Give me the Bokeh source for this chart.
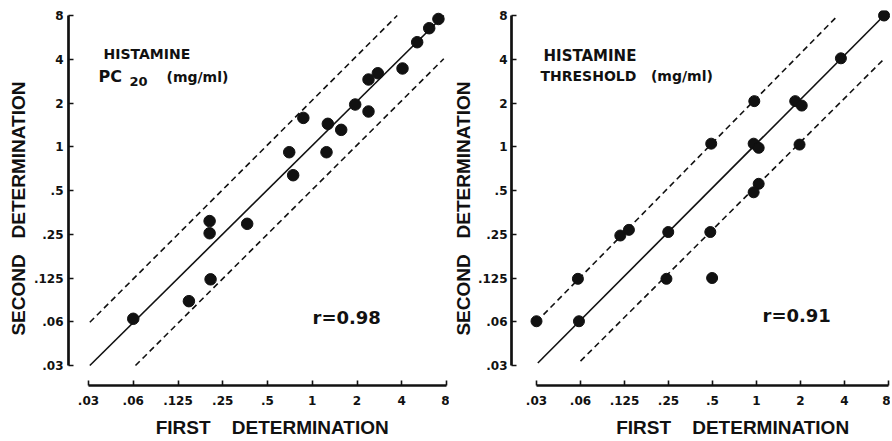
import numpy as np
from bokeh.plotting import figure
from bokeh.layouts import row
from bokeh.models import Range1d, FixedTicker, Label
from bokeh.embed import file_html
from bokeh.resources import INLINE

# ---------------- data (mg/ml) ----------------
tick_values = [0.03125, 0.0625, 0.125, 0.25, 0.5, 1, 2, 4, 8]
tick_labels = [".03", ".06", ".125", ".25", ".5", "1", "2", "4", "8"]

pc20_first = [0.871, 0.700, 0.744, 1.273, 1.247, 1.566, 1.945, 2.390, 2.390, 2.761,
              4.047, 5.08, 6.12, 7.06, 0.204, 0.204, 0.365, 0.207, 0.148, 0.0625]
pc20_second = [1.580, 0.917, 0.637, 1.438, 0.917, 1.307, 1.953, 1.748, 2.902, 3.204,
               3.456, 5.24, 6.54, 7.57, 0.308, 0.254, 0.295, 0.1224, 0.0866, 0.0655]

thr_first = [7.46, 3.78, 1.84, 2.04, 0.966, 0.490, 0.956, 1.035, 1.97, 1.035,
             0.956, 0.117, 0.134, 0.249, 0.483, 0.060, 0.242, 0.497, 0.03125, 0.061]
thr_second = [8.0, 4.06, 2.06, 1.92, 2.06, 1.05, 1.05, 0.983, 1.035, 0.556,
              0.486, 0.245, 0.268, 0.259, 0.259, 0.1234, 0.1234, 0.125, 0.0630, 0.0630]

pc20_solid_x, pc20_solid_y = [0.0319, 7.67], [0.03125, 8.0]
pc20_upper_x, pc20_upper_y = [0.0319, 3.73], [0.062, 8.0]
pc20_lower_x, pc20_lower_y = [0.0647, 7.67], [0.03125, 4.03]

thr_solid_x, thr_solid_y = [0.0319, 7.46], [0.0325, 8.0]
thr_upper_x, thr_upper_y = [0.03125, 3.56], [0.0625, 7.9]
thr_lower_x, thr_lower_y = [0.0625, 7.57], [0.0335, 4.08]

# doses are doubling steps: plot on a base-2 logarithmic axis
L = np.log2
tick_pos = [int(round(v)) for v in L(tick_values)]
overrides = dict(zip(tick_pos, tick_labels))

TICK_FONT = "DejaVu Sans"
TITLE_FONT = "Liberation Sans"
NB = "\u00a0"
INK = "#111111"

OCT_Y = 43.75
Y_LO = -5 - 20 / OCT_Y   # frame bottom 20px below the .03 tick
Y_HI = 3 + 5 / OCT_Y     # frame top 5px above the 8 tick


def make_panel(width, left_border, x_lo, x_hi, xlead, ylab_standoff, ytitle_standoff):
    p = figure(width=width, height=440, output_backend="svg", toolbar_location=None,
               x_range=Range1d(x_lo, x_hi), y_range=Range1d(Y_LO, Y_HI),
               min_border_left=left_border, min_border_right=0,
               min_border_top=10, min_border_bottom=55)
    p.outline_line_color = None
    p.grid.visible = False
    for ax in (p.xaxis[0], p.yaxis[0]):
        ax.ticker = FixedTicker(ticks=tick_pos, minor_ticks=[])
        ax.major_label_overrides = overrides
        ax.bounds = (tick_pos[0], tick_pos[-1])
        ax.axis_line_width = 2.7
        ax.axis_line_color = INK
        ax.major_tick_in = 5
        ax.major_tick_out = 0
        ax.major_tick_line_width = 1.6
        ax.major_tick_line_color = INK
        ax.minor_tick_line_color = None
        ax.major_label_text_font = TICK_FONT
        ax.major_label_text_font_style = "bold"
        ax.major_label_text_font_size = "12px"
        ax.major_label_text_color = INK
        ax.axis_label_text_font = TITLE_FONT
        ax.axis_label_text_font_style = "bold"
        ax.axis_label_text_color = INK
    p.xaxis.major_label_standoff = 10
    p.yaxis.major_label_standoff = ylab_standoff
    p.xaxis.axis_label = NB * xlead + "FIRST" + NB * 4 + "DETERMINATION"
    p.xaxis.axis_label_text_font_size = "19px"
    p.xaxis.axis_label_standoff = 9
    p.yaxis.axis_label = "SECOND" + NB * 3 + "DETERMINATION" + NB * 4
    p.yaxis.axis_label_text_font_size = "19px"
    p.yaxis.axis_label_standoff = ytitle_standoff
    return p


def ref_pos(x0, sx, px, py):
    # convert a reference picture position to axis units (doubling steps)
    return (px - x0) / sx - 5, (365 - py) / OCT_Y - 5


def add_text(p, x0, sx, px, py, text, size, bold=True, font=TICK_FONT):
    x, y = ref_pos(x0, sx, px, py)
    p.add_layout(Label(x=x, y=y, text=text, text_font=font,
                       text_font_size=size, text_font_style="bold" if bold else "normal",
                       text_align="left", text_baseline="middle", text_color=INK))


def draw(p, fx, fy, sx, sy, ux, uy, lx, ly, size):
    p.line(L(sx), L(sy), line_width=1.6, line_color=INK)
    p.line(L(ux), L(uy), line_width=1.6, line_color=INK, line_dash="6 4")
    p.line(L(lx), L(ly), line_width=1.6, line_color=INK, line_dash="6 4")
    p.scatter(L(fx), L(fy), size=size, color=INK)


# ---------------- left panel (page x 0..449) ----------------
OCT_X1 = 44.75
p1 = make_panel(449, 68, -5 - 20 / OCT_X1, 3 + 3 / OCT_X1, 5, 5, 2)
draw(p1, pc20_first, pc20_second, pc20_solid_x, pc20_solid_y,
     pc20_upper_x, pc20_upper_y, pc20_lower_x, pc20_lower_y, 11.5)

add_text(p1, 88, OCT_X1, 103, 53, "HISTAMINE", "14px")
add_text(p1, 88, OCT_X1, 98, 76, "PC", "16px")
add_text(p1, 88, OCT_X1, 129, 81, "20", "13px")
add_text(p1, 88, OCT_X1, 166, 76, "(mg/ml)", "14px")
add_text(p1, 88, OCT_X1, 312, 317, "r=0.98", "18px")

# ---------------- right panel (page x 449..890) ----------------
OCT_X2 = 44.0
p2 = make_panel(441, 62, -5 - 25 / OCT_X2, 3 + 2 / OCT_X2, 12, 4, 1)
draw(p2, thr_first, thr_second, thr_solid_x, thr_solid_y,
     thr_upper_x, thr_upper_y, thr_lower_x, thr_lower_y, 11)

X0R = 536 - 449
add_text(p2, X0R, OCT_X2, 543 - 449, 55, "HISTAMINE", "15px")
add_text(p2, X0R, OCT_X2, 540 - 449, 75, "THRESHOLD" + NB * 3 + "(mg/ml)", "14px")
add_text(p2, X0R, OCT_X2, 762 - 449, 315, "r=0.91", "18px")

layout = row(p1, p2)
open("out.html", "w").write(file_html(layout, INLINE))
